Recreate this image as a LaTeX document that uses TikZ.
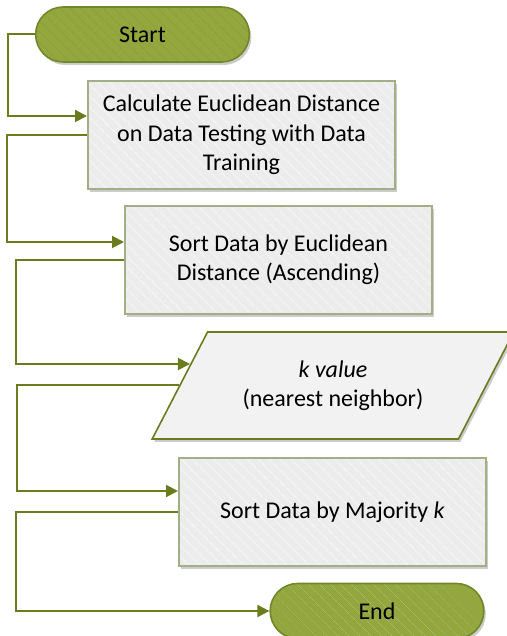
\documentclass[tikz,border=0pt]{standalone}
\usepackage{fontspec}
\setmainfont{Carlito}
\usetikzlibrary{arrows.meta,shapes.misc,shapes.geometric,shadows,patterns.meta,calc}

\definecolor{lineolive}{HTML}{6B7C1E}
\definecolor{pillgreen}{HTML}{93A73E}
\definecolor{pillborder}{HTML}{718729}
\definecolor{boxborder}{HTML}{A3AE86}
\definecolor{boxfill}{HTML}{ECECEC}
\definecolor{iofill}{HTML}{F2F2F2}

\begin{document}
\begin{tikzpicture}[x=0.5pt, y=0.5pt, >={Triangle[length=6pt,width=6pt]},
    every node/.style={font=\fontsize{12}{14.7}\selectfont, align=center},
    shade box/.style={drop shadow={shadow xshift=1pt, shadow yshift=-1.5pt, opacity=0.2, fill=black}},
    terminal/.style={rounded rectangle, draw=pillborder, line width=0.8pt,
        minimum width=113.5pt, minimum height=27.5pt, shade box, preaction={fill=pillgreen},
        preaction={pattern={Lines[angle=-45,distance=4pt,line width=0.4pt]}, pattern color=pillborder!25!pillgreen}},
    process/.style={rectangle, draw=boxborder, line width=1pt,
        minimum width=153.5pt, minimum height=54pt, shade box, preaction={fill=boxfill},
        preaction={pattern={Lines[angle=-45,distance=4pt,line width=0.5pt]}, pattern color=white!45!boxfill}},
    io/.style={trapezium, trapezium left angle=56, trapezium right angle=124, trapezium stretches=true,
        draw=lineolive, line width=0.8pt, fill=iofill, minimum width=181pt, minimum height=53.5pt, shade box},
    flow/.style={draw=lineolive, line width=1pt, ->}]
    \useasboundingbox (0,0) rectangle (507,636);

    % 1. 节点
    \node[terminal] (start) at (142.5, 601.5) {Start};
    \node[process] (calcdist) at (241.5, 501) {Calculate Euclidean Distance\\on Data Testing with Data\\Training};
    \node[process] (sortdist) at (278.5, 376) {Sort Data by Euclidean\\Distance (Ascending)};
    \node[io] (kval) at (333, 250.5) {\textit{k value}\\(nearest neighbor)};
    \node[process] (sortk) at (332.5, 124) {Sort Data by Majority \textit{k}};
    \node[terminal] (finish) at (377, 25) {End};

    % 2. 连线
    \draw[flow] (start.west) -- ++(-27,0) |- ($(calcdist.west)+(0,19)$);
    \draw[flow] (calcdist.west) -- ++(-80,0) |- ($(sortdist.west)+(0,18)$);
    \draw[flow] (sortdist.west) -- ++(-108,0) |- ($(kval.west)+(11,21.5)$);
    \draw[flow] (kval.west) -- ++(-162,0) |- ($(sortk.west)+(0,21)$);
    \draw[flow] (sortk.west) -- ++(-162,0) |- (finish.west);
\end{tikzpicture}
\end{document}
